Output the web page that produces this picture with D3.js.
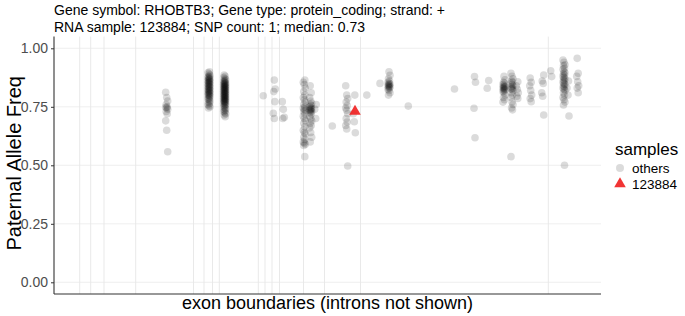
<!DOCTYPE html>
<html>
<head>
<meta charset="utf-8">
<script src="https://cdn.jsdelivr.net/npm/d3@7"></script>
<style>
  html, body { margin: 0; padding: 0; background: #fff; }
  svg { display: block; font-family: "Liberation Sans", Arial, Helvetica, sans-serif; }
</style>
</head>
<body>
<svg id="chart" width="685" height="316"></svg>
<script>
// ---- data ----
const titleLines = [
  "Gene symbol: RHOBTB3; Gene type: protein_coding; strand: +",
  "RNA sample: 123884; SNP count: 1; median: 0.73"
];
const exonBoundaries = [257, 367, 500, 817, 1395, 1500, 1585, 1653, 2043, 2110, 2180, 2255, 2495, 2705, 3065, 4943];
const yTicks = [0, 0.25, 0.5, 0.75, 1];
const yTickLabels = ["0.00", "0.25", "0.50", "0.75", "1.00"];

// SNP positions (exonic coordinate) of the "others" samples
const snpPos = [1127, 1550, 1707, 2083, 2203, 2293, 2503, 2567, 2612, 2783, 2927, 3003,
                3133, 3250, 3350, 3553, 4000, 4210, 4337, 4500, 4580, 4633, 4767, 4887,
                4967, 5100, 5140, 5237];
// paternal allele frequency of other samples at each SNP
const othersFreq = [
  [0.812, 0.79, 0.775, 0.76, 0.75, 0.748, 0.745, 0.74, 0.73, 0.72, 0.69, 0.65, 0.558],
  [0.90, 0.895, 0.89, 0.885, 0.88, 0.878, 0.875, 0.872, 0.87, 0.868, 0.865, 0.862, 0.86, 0.858, 0.855, 0.853, 0.85, 0.848, 0.845, 0.843, 0.84, 0.838, 0.835, 0.833, 0.83, 0.828, 0.825, 0.822, 0.82, 0.818, 0.815, 0.812, 0.81, 0.808, 0.805, 0.802, 0.80, 0.797, 0.795, 0.79, 0.787, 0.783, 0.78, 0.775, 0.77, 0.765, 0.76, 0.755, 0.75, 0.745],
  [0.886, 0.88, 0.875, 0.87, 0.866, 0.862, 0.86, 0.857, 0.855, 0.852, 0.85, 0.848, 0.846, 0.844, 0.842, 0.84, 0.838, 0.836, 0.834, 0.832, 0.83, 0.828, 0.826, 0.824, 0.822, 0.82, 0.818, 0.816, 0.814, 0.812, 0.81, 0.808, 0.806, 0.804, 0.802, 0.80, 0.798, 0.796, 0.794, 0.792, 0.79, 0.788, 0.786, 0.784, 0.782, 0.78, 0.778, 0.776, 0.774, 0.772, 0.77, 0.768, 0.765, 0.762, 0.76, 0.757, 0.754, 0.75, 0.746, 0.742, 0.738, 0.734, 0.73, 0.725, 0.72, 0.715, 0.708],
  [0.797],
  [0.864, 0.826, 0.815, 0.772, 0.722, 0.70],
  [0.772, 0.739, 0.705, 0.70],
  [0.864, 0.855, 0.845, 0.83, 0.815, 0.80, 0.79, 0.78, 0.77, 0.76, 0.75, 0.745, 0.74, 0.735, 0.73, 0.72, 0.71, 0.70, 0.69, 0.68, 0.665, 0.65, 0.64, 0.635, 0.62, 0.61, 0.60, 0.595, 0.59, 0.585, 0.537],
  [0.84, 0.81, 0.79, 0.775, 0.765, 0.76, 0.755, 0.75, 0.745, 0.742, 0.74, 0.738, 0.735, 0.732, 0.73, 0.725, 0.72, 0.71, 0.70, 0.69, 0.68, 0.67, 0.66, 0.64, 0.62, 0.60],
  [0.76, 0.74, 0.70],
  [0.668],
  [0.84, 0.80, 0.785, 0.77, 0.755, 0.745, 0.735, 0.72, 0.70, 0.685, 0.67, 0.655, 0.497],
  [0.80, 0.72, 0.686, 0.639],
  [0.80],
  [0.85],
  [0.90, 0.885, 0.87, 0.86, 0.855, 0.85, 0.847, 0.845, 0.842, 0.84, 0.838, 0.835, 0.832, 0.83, 0.825, 0.82, 0.81, 0.80],
  [0.753],
  [0.826],
  [0.879, 0.855, 0.744, 0.618],
  [0.862, 0.829],
  [0.88, 0.865, 0.855, 0.85, 0.845, 0.84, 0.837, 0.835, 0.833, 0.83, 0.828, 0.825, 0.822, 0.82, 0.815, 0.81, 0.80, 0.79, 0.78, 0.77],
  [0.893, 0.88, 0.87, 0.86, 0.855, 0.85, 0.845, 0.84, 0.835, 0.83, 0.827, 0.825, 0.82, 0.81, 0.80, 0.79, 0.77, 0.76, 0.745, 0.737, 0.537],
  [0.857, 0.84, 0.825, 0.81, 0.795, 0.786],
  [0.873, 0.855, 0.84, 0.82, 0.80, 0.785, 0.772],
  [0.886, 0.86, 0.85, 0.81, 0.795, 0.715],
  [0.904, 0.879],
  [0.95, 0.94, 0.93, 0.925, 0.915, 0.91, 0.90, 0.895, 0.89, 0.885, 0.88, 0.875, 0.87, 0.865, 0.86, 0.855, 0.85, 0.845, 0.84, 0.835, 0.83, 0.825, 0.82, 0.81, 0.80, 0.79, 0.78, 0.77, 0.758, 0.50],
  [0.86, 0.83, 0.80, 0.711],
  [0.957, 0.893, 0.88, 0.857, 0.84, 0.83, 0.81]
];
const sampleName = "123884";
const samplePos = [3010];
const sampleFreq = [0.73];
const legendTitle = "samples";
const legendLabels = ["others", "123884"];
const xTitle = "exon boundaries (introns not shown)";
const yTitle = "Paternal Allele Freq";

// ---- layout ----
const svg = d3.select("#chart");
const panel = { left: 54, right: 601, top: 36.6, bottom: 294 };

const x = d3.scaleLinear().domain([0, 5470]).range([panel.left, panel.right]);
const y = d3.scaleLinear().domain([-0.05, 1.05]).range([panel.bottom, panel.top]);

// horizontal grid
svg.append("g").selectAll("line").data(yTicks).join("line")
  .attr("x1", panel.left).attr("x2", panel.right)
  .attr("y1", d => y(d)).attr("y2", d => y(d))
  .attr("stroke", "#ebebeb").attr("stroke-width", 0.8);

// exon boundary lines
svg.append("g").selectAll("line").data(exonBoundaries).join("line")
  .attr("x1", d => x(d)).attr("x2", d => x(d))
  .attr("y1", panel.top).attr("y2", panel.bottom)
  .attr("stroke", "#e6e6e6").attr("stroke-width", 0.9);

// points of other samples
const pts = [];
snpPos.forEach((p, i) => {
  othersFreq[i].forEach((f, j) => {
    const jit = (((j * 7 + i * 3) % 5) - 2) * 5; // small deterministic horizontal jitter
    pts.push({ pos: p + jit, freq: f });
  });
});
svg.append("g").selectAll("circle").data(pts).join("circle")
  .attr("cx", d => x(d.pos)).attr("cy", d => y(d.freq))
  .attr("r", 3.8)
  .attr("fill", "#000").attr("fill-opacity", 0.14);

// highlighted sample
const tri = d3.symbol().type(d3.symbolTriangle).size(58);
svg.append("g").selectAll("path").data(samplePos.map((p, i) => ({ pos: p, freq: sampleFreq[i] })))
  .join("path")
  .attr("transform", d => `translate(${x(d.pos)},${y(d.freq)})`)
  .attr("d", tri)
  .attr("fill", "#f01e1e").attr("fill-opacity", 0.9);

// axes
const yAxis = d3.axisLeft(y).tickValues(yTicks).tickFormat((d, i) => yTickLabels[i]).tickSize(3).tickPadding(3);
const gy = svg.append("g").attr("transform", `translate(${panel.left},0)`).call(yAxis);
gy.select(".domain").remove();
gy.selectAll(".tick line").attr("stroke", "#333").attr("stroke-width", 1);
gy.selectAll(".tick text").attr("fill", "#4d4d4d").style("font-size", "14px")
  .style("font-family", '"Liberation Sans", Arial, sans-serif');

svg.append("line").attr("x1", panel.left).attr("x2", panel.left)
  .attr("y1", panel.top).attr("y2", panel.bottom).attr("stroke", "#333").attr("stroke-width", 1.1);
svg.append("line").attr("x1", panel.left).attr("x2", panel.right)
  .attr("y1", panel.bottom).attr("y2", panel.bottom).attr("stroke", "#333").attr("stroke-width", 1.1);

// titles
svg.append("g").selectAll("text").data(titleLines).join("text")
  .attr("x", 54).attr("y", (d, i) => 15 + i * 16.5)
  .style("font-size", "14px").attr("fill", "#000").text(d => d);

svg.append("text").attr("x", (panel.left + panel.right) / 2).attr("y", 309)
  .attr("text-anchor", "middle").style("font-size", "18px").attr("fill", "#000").text(xTitle);

svg.append("text").attr("transform", `translate(21,${(panel.top + panel.bottom) / 2 - 2}) rotate(-90)`)
  .attr("text-anchor", "middle").style("font-size", "20px").attr("fill", "#000").text(yTitle);

// legend
const lg = svg.append("g");
lg.append("text").attr("x", 615).attr("y", 155).style("font-size", "17px").attr("fill", "#000").text(legendTitle);
lg.append("circle").attr("cx", 620).attr("cy", 168).attr("r", 4).attr("fill", "#000").attr("fill-opacity", 0.14);
lg.append("path").attr("transform", "translate(620,184)").attr("d", tri).attr("fill", "#f01e1e").attr("fill-opacity", 0.9);
lg.selectAll("text.lab").data(legendLabels).join("text").attr("class", "lab")
  .attr("x", 632).attr("y", (d, i) => 173 + i * 15.5)
  .style("font-size", "13.5px").attr("fill", "#000").text(d => d);
</script>
</body>
</html>
